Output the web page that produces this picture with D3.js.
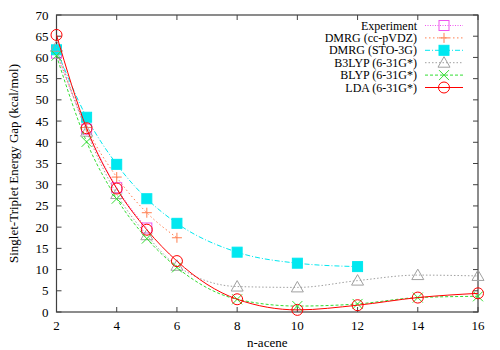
<!DOCTYPE html>
<html>
<head>
<meta charset="utf-8">
<script src="https://cdn.jsdelivr.net/npm/d3@7"></script>
<style>
  body { margin: 0; background: #fff; }
  text { font-family: "Liberation Serif", "DejaVu Serif", serif; fill: #000; }
</style>
</head>
<body>
<div id="chart"></div>
<script>
// n-acene sizes and gaps (kcal/mol)
var acenes = [2, 3, 4, 5, 6, 8, 10, 12, 14, 16];

var experiment = [61.0, 43.1, 29.3, 19.8];
var dmrgPvdz   = [61.5, 43.5, 31.8, 23.4, 17.5];
var dmrgSto    = [61.8, 45.9, 34.8, 26.7, 20.9, 14.1, 11.5, 10.7];
var b3lyp      = [62.5, 42.5, 27.8, 18.1, 10.9, 6.0, 5.8, 7.4, 8.7, 8.5];
var blyp       = [60.4, 40.1, 26.7, 17.3, 10.5, 3.0, 1.4, 1.9, 3.4, 3.7];
var lda        = [65.3, 43.3, 29.1, 19.4, 12.0, 3.0, 0.5, 1.6, 3.4, 4.4];

var xTicks = [2, 4, 6, 8, 10, 12, 14, 16];
var yTicks = d3.range(0, 71, 5);

var series = [
  {name: "Experiment",       values: experiment, color: "#ee55ee", dash: "1,1.5", marker: "squareOpen"},
  {name: "DMRG (cc-pVDZ)",   values: dmrgPvdz,   color: "#ff7f50", dash: "1.5,2.5", marker: "plus"},
  {name: "DMRG (STO-3G)",    values: dmrgSto,    color: "#00e8f0", dash: "5,2,1,2", marker: "squareFill"},
  {name: "B3LYP (6-31G*)",   values: b3lyp,      color: "#a0a0a0", dash: "1.5,2", marker: "triangle"},
  {name: "BLYP (6-31G*)",    values: blyp,       color: "#33dd33", dash: "3,2", marker: "cross"},
  {name: "LDA (6-31G*)",     values: lda,        color: "#ff0000", dash: null, marker: "circle"}
];

var width = 500,
    height = 350,
    margin = {top: 15, right: 22, bottom: 38, left: 56.5};

var svg = d3.select("#chart").append("svg")
    .attr("width", width)
    .attr("height", height);

var x = d3.scaleLinear().domain([2, 16]).range([margin.left, width - margin.right]);
var y = d3.scaleLinear().domain([0, 70]).range([height - margin.bottom, margin.top]);

var frameColor = "#404040";

// frame
svg.append("rect")
    .attr("x", x(2)).attr("y", y(70))
    .attr("width", x(16) - x(2)).attr("height", y(0) - y(70))
    .style("fill", "none")
    .style("stroke", frameColor)
    .style("stroke-width", 1.2);

// inward ticks on all four sides
var tick = 5;
var ticksG = svg.append("g").style("stroke", frameColor).style("stroke-width", 1);
xTicks.forEach(function(t) {
  ticksG.append("line").attr("x1", x(t)).attr("x2", x(t)).attr("y1", y(0)).attr("y2", y(0) - tick);
  ticksG.append("line").attr("x1", x(t)).attr("x2", x(t)).attr("y1", y(70)).attr("y2", y(70) + tick);
});
yTicks.forEach(function(t) {
  ticksG.append("line").attr("x1", x(2)).attr("x2", x(2) + tick).attr("y1", y(t)).attr("y2", y(t));
  ticksG.append("line").attr("x1", x(16)).attr("x2", x(16) - tick).attr("y1", y(t)).attr("y2", y(t));
});

// tick labels
svg.selectAll(".xlab").data(xTicks).enter().append("text")
    .attr("x", function(d) { return x(d); })
    .attr("y", y(0) + 18)
    .style("text-anchor", "middle")
    .style("font-size", "13px")
    .text(function(d) { return d; });

svg.selectAll(".ylab").data(yTicks).enter().append("text")
    .attr("x", x(2) - 8)
    .attr("y", function(d) { return y(d) + 4.5; })
    .style("text-anchor", "end")
    .style("font-size", "13px")
    .text(function(d) { return d; });

// axis titles
svg.append("text")
    .attr("x", (x(2) + x(16)) / 2)
    .attr("y", 347)
    .style("text-anchor", "middle")
    .style("font-size", "13px")
    .text("n-acene");

svg.append("text")
    .attr("transform", "translate(18," + ((y(0) + y(70)) / 2) + ") rotate(-90)")
    .style("text-anchor", "middle")
    .style("font-size", "13px")
    .text("Singlet-Triplet Energy Gap (kcal/mol)");

function drawMarker(g, type, cx, cy, color) {
  var s = 5;
  if (type === "circle") {
    g.append("circle").attr("cx", cx).attr("cy", cy).attr("r", 5.5)
      .style("fill", "none").style("stroke", color).style("stroke-width", 1);
  } else if (type === "squareOpen") {
    g.append("rect").attr("x", cx - s).attr("y", cy - s).attr("width", 2 * s).attr("height", 2 * s)
      .style("fill", "none").style("stroke", color).style("stroke-width", 1);
  } else if (type === "squareFill") {
    g.append("rect").attr("x", cx - s).attr("y", cy - s).attr("width", 2 * s).attr("height", 2 * s)
      .style("fill", color).style("stroke", color).style("stroke-width", 1);
  } else if (type === "plus") {
    g.append("path").attr("d", "M" + (cx - s) + "," + cy + "H" + (cx + s) + "M" + cx + "," + (cy - s) + "V" + (cy + s))
      .style("stroke", color).style("stroke-width", 1);
  } else if (type === "cross") {
    g.append("path").attr("d", "M" + (cx - s) + "," + (cy - s) + "L" + (cx + s) + "," + (cy + s) +
        "M" + (cx - s) + "," + (cy + s) + "L" + (cx + s) + "," + (cy - s))
      .style("stroke", color).style("stroke-width", 1);
  } else if (type === "triangle") {
    g.append("path").attr("d", "M" + cx + "," + (cy - 6) + "L" + (cx + 6) + "," + (cy + 4.5) + "L" + (cx - 6) + "," + (cy + 4.5) + "Z")
      .style("fill", "none").style("stroke", color).style("stroke-width", 1);
  }
}

var line = d3.line()
    .x(function(d) { return x(d.n); })
    .y(function(d) { return y(d.v); })
    .curve(d3.curveMonotoneX);

var plot = svg.append("g");

series.forEach(function(s) {
  var pts = s.values.map(function(v, i) { return {n: acenes[i], v: v}; });
  var g = plot.append("g");
  g.append("path")
    .datum(pts)
    .attr("d", line)
    .style("fill", "none")
    .style("stroke", s.color)
    .style("stroke-width", 1)
    .style("stroke-dasharray", s.dash);
  pts.forEach(function(p) { drawMarker(g, s.marker, x(p.n), y(p.v), s.color); });
});

// legend
var legend = svg.append("g");
series.forEach(function(s, i) {
  var ly = 25.5 + i * 12.4;
  legend.append("text")
    .attr("x", 417)
    .attr("y", ly + 4)
    .style("text-anchor", "end")
    .style("font-size", "12px")
    .text(s.name);
  legend.append("line")
    .attr("x1", 425).attr("x2", 463).attr("y1", ly).attr("y2", ly)
    .style("stroke", s.color)
    .style("stroke-width", 1)
    .style("stroke-dasharray", s.dash);
  drawMarker(legend, s.marker, 444, ly, s.color);
});
</script>
</body>
</html>
